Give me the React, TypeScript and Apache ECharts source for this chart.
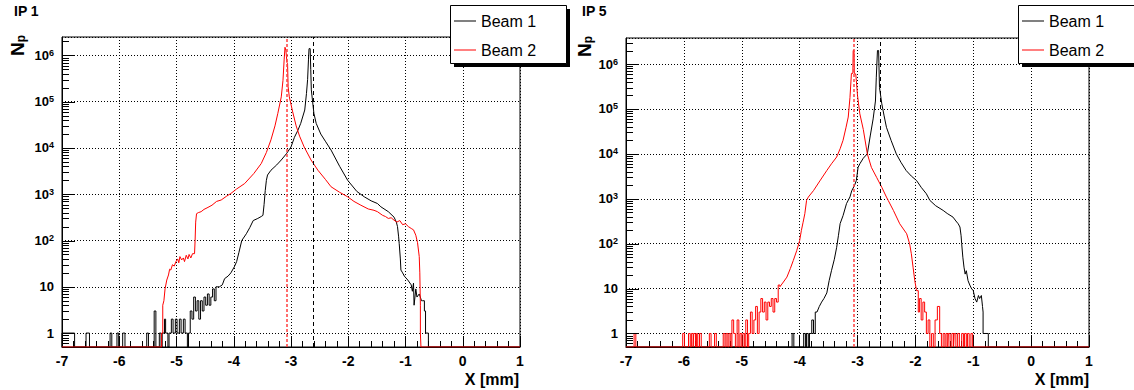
import { useEffect, useRef } from 'react';
import * as echarts from 'echarts';

// ---------------- data ----------------
const xMin = -7;
const xMax = 1;
const yMinCount = 0.5;
const ip1YMax = 2.5e6;
const ip5YMax = 3.8e6;
const panelTitles = ['IP 1', 'IP 5'];
const legendNames = ['Beam 1', 'Beam 2'];
const xAxisTitle = 'X [mm]';
// mean positions (dashed vertical lines) [beam1, beam2]
const ip1MeanX = [-2.62, -3.07];
const ip5MeanX = [-2.61, -3.06];

type Bin = [number, number, number]; // [xStart, xEnd, count]
type Pt = [number, number]; // [x, count]

// IP 1, Beam 1
const ip1Beam1LeftBins: Bin[] = [
  [-7.0, -6.78, 1], [-6.58, -6.52, 1], [-6.16, -6.13, 1], [-6.04, -6.01, 1], [-5.94, -5.9, 1],
  [-5.52, -5.49, 1], [-5.39, -5.36, 3], [-5.3, -5.27, 1], [-5.25, -5.21, 1], [-5.21, -5.19, 2],
  [-5.19, -5.15, 1], [-5.13, -5.09, 1], [-5.09, -5.06, 2], [-5.06, -5.02, 1], [-5.02, -4.99, 2],
  [-4.99, -4.95, 1], [-4.95, -4.92, 2], [-4.92, -4.88, 1], [-4.88, -4.85, 2], [-4.85, -4.81, 1],
  [-4.79, -4.76, 1], [-4.76, -4.73, 3], [-4.73, -4.7, 2], [-4.7, -4.67, 6], [-4.67, -4.64, 3],
  [-4.64, -4.61, 5], [-4.61, -4.58, 2], [-4.58, -4.55, 5], [-4.55, -4.52, 3], [-4.52, -4.49, 6],
  [-4.49, -4.46, 4], [-4.46, -4.43, 7], [-4.43, -4.4, 4], [-4.4, -4.37, 6], [-4.37, -4.34, 9],
  [-4.34, -4.31, 5], [-4.31, -4.28, 10],
];
const ip1Beam1Curve: Pt[] = [
  [-4.28, 10], [-4.25, 10], [-4.2, 11], [-4.16, 15], [-4.1, 17], [-4.05, 20], [-3.99, 27], [-3.95, 35],
  [-3.91, 55], [-3.86, 100], [-3.78, 140], [-3.72, 190], [-3.66, 270], [-3.58, 300], [-3.52, 330],
  [-3.49, 350], [-3.47, 600], [-3.45, 1200], [-3.43, 2000], [-3.41, 2600], [-3.35, 3300], [-3.25, 4300],
  [-3.17, 5500], [-3.08, 7500], [-3.0, 10500], [-2.94, 17000], [-2.88, 24000], [-2.83, 34000],
  [-2.76, 66000], [-2.73, 150000], [-2.71, 300000], [-2.695, 800000], [-2.685, 1400000],
  [-2.665, 1400000], [-2.655, 500000], [-2.645, 180000], [-2.6, 56000], [-2.56, 34000], [-2.48, 20000],
  [-2.4, 14000], [-2.3, 9000], [-2.15, 4000], [-2.01, 2000], [-1.85, 1150], [-1.72, 880], [-1.6, 720],
  [-1.49, 630], [-1.43, 535], [-1.3, 420], [-1.2, 320], [-1.16, 250], [-1.14, 200], [-1.12, 120],
  [-1.11, 87], [-1.09, 40], [-1.08, 23], [-1.05, 20], [-1.02, 17], [-0.96, 14], [-0.9, 11], [-0.88, 8],
  [-0.86, 12], [-0.85, 4], [-0.82, 9], [-0.8, 6], [-0.76, 7], [-0.72, 5], [-0.7, 5],
];
const ip1Beam1RightBins: Bin[] = [[-0.7, -0.67, 5], [-0.67, -0.65, 3], [-0.65, -0.6, 1]];

// IP 1, Beam 2
const ip1Beam2LeftBins: Bin[] = [[-5.26, -5.24, 1]];
const ip1Beam2Curve: Pt[] = [
  [-5.24, 4], [-5.22, 5], [-5.2, 9], [-5.17, 14], [-5.14, 18], [-5.12, 24], [-5.1, 23], [-5.07, 30],
  [-5.04, 28], [-5.01, 35], [-4.98, 40], [-4.96, 33], [-4.94, 45], [-4.91, 38], [-4.88, 42], [-4.86, 35],
  [-4.83, 48], [-4.8, 40], [-4.78, 50], [-4.75, 42], [-4.72, 52], [-4.685, 52], [-4.675, 100],
  [-4.665, 250], [-4.65, 380], [-4.62, 400], [-4.57, 420], [-4.52, 470], [-4.45, 520], [-4.38, 580],
  [-4.3, 700], [-4.22, 750], [-4.13, 900], [-4.05, 1040], [-3.95, 1300], [-3.81, 1700], [-3.65, 2800],
  [-3.52, 4600], [-3.43, 8000], [-3.35, 15000], [-3.28, 30000], [-3.23, 56000], [-3.17, 127000],
  [-3.14, 290000], [-3.12, 800000], [-3.105, 1500000], [-3.09, 1300000], [-3.07, 700000],
  [-3.06, 660000], [-3.05, 210000], [-3.03, 127000], [-2.97, 60000], [-2.91, 30000], [-2.85, 18000],
  [-2.77, 10500], [-2.65, 5500], [-2.53, 3300], [-2.4, 2100], [-2.3, 1450], [-2.15, 1100], [-2.01, 880],
  [-1.9, 700], [-1.78, 580], [-1.65, 480], [-1.55, 450], [-1.49, 420], [-1.4, 350], [-1.35, 330],
  [-1.3, 300], [-1.25, 310], [-1.2, 275], [-1.15, 250], [-1.1, 270], [-1.05, 220], [-1.0, 230],
  [-0.95, 200], [-0.9, 182], [-0.86, 170], [-0.82, 130], [-0.79, 90], [-0.76, 45], [-0.75, 20], [-0.74, 4],
];
const ip1Beam2RightBins: Bin[] = [[-0.74, -0.73, 1]];

// IP 5, Beam 1
const ip5Beam1LeftBins: Bin[] = [
  [-4.13, -4.1, 1], [-3.93, -3.9, 1], [-3.88, -3.85, 1], [-3.83, -3.79, 1], [-3.79, -3.76, 2],
  [-3.76, -3.73, 1], [-3.73, -3.7, 3],
];
const ip5Beam1Curve: Pt[] = [
  [-3.7, 3], [-3.66, 4], [-3.62, 5], [-3.58, 6], [-3.53, 8], [-3.49, 15], [-3.45, 25], [-3.4, 45],
  [-3.36, 83], [-3.33, 150], [-3.3, 280], [-3.25, 420], [-3.19, 780], [-3.13, 1100], [-3.1, 1500],
  [-3.05, 2000], [-3.02, 2550], [-2.99, 5000], [-2.96, 6000], [-2.9, 8000], [-2.83, 10000],
  [-2.78, 25000], [-2.73, 60000], [-2.69, 150000], [-2.675, 510000], [-2.655, 2000000],
  [-2.635, 2000000], [-2.62, 300000], [-2.58, 130000], [-2.54, 70000], [-2.5, 39000], [-2.42, 20000],
  [-2.33, 10000], [-2.25, 6500], [-2.16, 4260], [-2.07, 3200], [-1.98, 2550], [-1.9, 1800],
  [-1.81, 1290], [-1.75, 920], [-1.65, 700], [-1.52, 550], [-1.45, 470], [-1.35, 390], [-1.3, 320],
  [-1.26, 277], [-1.23, 235], [-1.21, 150], [-1.2, 100], [-1.18, 50], [-1.16, 30], [-1.14, 21],
  [-1.12, 25], [-1.09, 15], [-1.06, 12], [-1.03, 10], [-1.0, 9], [-0.97, 6], [-0.94, 5], [-0.91, 7],
  [-0.89, 6], [-0.86, 7], [-0.84, 4], [-0.83, 3],
];
const ip5Beam1RightBins: Bin[] = [[-0.83, -0.74, 1]];

// IP 5, Beam 2
const ip5Beam2LeftBins: Bin[] = [
  [-6.86, -6.83, 1], [-6.02, -5.99, 1], [-5.92, -5.89, 1], [-5.87, -5.84, 1], [-5.83, -5.8, 1],
  [-5.78, -5.76, 1], [-5.73, -5.7, 1], [-5.56, -5.53, 1], [-5.47, -5.44, 1], [-5.32, -5.29, 1],
  [-5.27, -5.24, 1], [-5.22, -5.19, 1], [-5.17, -5.14, 2], [-5.14, -5.11, 1], [-5.08, -5.05, 2],
  [-5.03, -5.0, 1], [-4.98, -4.95, 1], [-4.93, -4.9, 2], [-4.88, -4.85, 1], [-4.85, -4.82, 3],
  [-4.82, -4.79, 1], [-4.79, -4.76, 2], [-4.76, -4.73, 4], [-4.73, -4.7, 1], [-4.7, -4.67, 3],
  [-4.67, -4.64, 6], [-4.64, -4.61, 3], [-4.61, -4.58, 5], [-4.58, -4.55, 2], [-4.55, -4.52, 5],
  [-4.52, -4.49, 4], [-4.49, -4.46, 6], [-4.46, -4.43, 3], [-4.43, -4.4, 6], [-4.4, -4.37, 5],
  [-4.37, -4.34, 12],
];
const ip5Beam2Curve: Pt[] = [
  [-4.34, 11], [-4.28, 14], [-4.22, 18], [-4.16, 28], [-4.11, 42], [-4.05, 70], [-4.0, 117],
  [-3.97, 196], [-3.94, 300], [-3.91, 465], [-3.88, 920], [-3.85, 1090], [-3.76, 1520], [-3.65, 2500],
  [-3.53, 4260], [-3.45, 6000], [-3.36, 8500], [-3.3, 13000], [-3.25, 20000], [-3.2, 38000],
  [-3.16, 66000], [-3.13, 180000], [-3.105, 620000], [-3.08, 620000], [-3.075, 2000000],
  [-3.06, 2000000], [-3.055, 620000], [-3.03, 600000], [-3.02, 430000], [-3.0, 200000],
  [-2.96, 78000], [-2.9, 35000], [-2.83, 10000], [-2.76, 5000], [-2.67, 3000], [-2.58, 1800],
  [-2.5, 1090], [-2.47, 920], [-2.38, 550], [-2.27, 277], [-2.15, 166], [-2.1, 100], [-2.07, 60],
  [-2.04, 30], [-2.01, 15], [-1.98, 9],
];
const ip5Beam2RightBins: Bin[] = [
  [-1.98, -1.95, 9], [-1.95, -1.93, 3], [-1.93, -1.9, 6], [-1.9, -1.87, 2], [-1.87, -1.84, 5],
  [-1.84, -1.81, 3], [-1.81, -1.78, 1], [-1.78, -1.75, 2], [-1.72, -1.69, 1], [-1.66, -1.62, 2],
  [-1.62, -1.58, 4], [-1.58, -1.55, 1], [-1.52, -1.49, 1], [-1.47, -1.44, 1], [-1.43, -1.4, 1],
  [-1.37, -1.34, 1], [-1.33, -1.3, 1], [-1.27, -1.24, 1], [-1.2, -1.17, 1], [-1.15, -1.12, 1],
  [-1.1, -1.07, 1], [-1.04, -1.01, 1],
];

// ---------------- helpers ----------------
const FONT = '"Liberation Sans", Arial, Helvetica, sans-serif';

// Build the histogram outline (empty bins sit on the axis floor)
function outline(leftBins: Bin[], curve: Pt[], rightBins: Bin[]): Pt[] {
  const floor = yMinCount;
  const pts: Pt[] = [[xMin, floor]];
  const addBins = (bins: Bin[]) => {
    for (const [a, b, c] of bins) {
      const last = pts[pts.length - 1];
      if (last[0] < a - 1e-9) {
        if (last[1] !== floor) pts.push([last[0], floor]);
        pts.push([a, floor]);
      }
      pts.push([a, c]);
      pts.push([b, c]);
    }
  };
  addBins(leftBins);
  const last = pts[pts.length - 1];
  if (curve.length && last[0] < curve[0][0] - 0.005) {
    if (last[1] !== floor) pts.push([last[0], floor]);
    pts.push([curve[0][0], floor]);
  }
  for (const p of curve) pts.push([p[0], p[1]]);
  addBins(rightBins);
  const end = pts[pts.length - 1];
  pts.push([end[0], floor]);
  pts.push([xMax, floor]);
  return pts;
}

function logLabel(v: number): string {
  const e = Math.log10(v);
  const r = Math.round(e);
  if (Math.abs(e - r) > 1e-6 || r < 0) return '';
  if (r === 0) return '1';
  if (r === 1) return '10';
  return '10{sup|' + r + '}';
}

function yTickValues(maxV: number): [number, number, number][] {
  const out: [number, number, number][] = [];
  for (let k = -1; k <= 7; k++) {
    for (let m = 1; m <= 9; m++) {
      const v = m * Math.pow(10, k);
      if (v > yMinCount * 1.0001 && v < maxV) out.push([xMin, v, m === 1 ? 1 : 0]);
    }
  }
  return out;
}

const dotted = { color: '#000', width: 1, type: [1, 2] as any };

function makeX(gridIndex: number) {
  return {
    type: 'value', gridIndex, min: xMin, max: xMax, interval: 1,
    axisLine: { show: true, onZero: false, lineStyle: { color: '#000', width: 1 } },
    axisTick: { show: true, inside: true, length: 11, lineStyle: { color: '#000', width: 1 } },
    minorTick: { show: true, splitNumber: 5, length: 6, lineStyle: { color: '#000', width: 1 } },
    axisLabel: {
      show: true, color: '#000', fontFamily: FONT, fontSize: 14, fontWeight: 'bold', margin: 7,
      showMinLabel: true, showMaxLabel: true,
    },
    splitLine: { show: true, lineStyle: dotted },
  };
}

function makeY(gridIndex: number, maxV: number) {
  return {
    type: 'log', logBase: 10, gridIndex, min: yMinCount, max: maxV,
    axisLine: { show: true, onZero: false, lineStyle: { color: '#000', width: 1 } },
    axisTick: { show: false },
    axisLabel: {
      color: '#000', fontFamily: FONT, fontSize: 13, fontWeight: 'bold', margin: 8,
      formatter: logLabel,
      rich: { sup: { fontSize: 9, fontWeight: 'bold', fontFamily: FONT, color: '#000', verticalAlign: 'top', lineHeight: 14 } },
    },
    splitLine: { show: true, lineStyle: dotted },
  };
}

function histSeries(name: string, data: Pt[], color: string, idx: number, meanX: number, meanColor: string, meanWidth: number, dash: number[]) {
  return {
    type: 'line', name, xAxisIndex: idx, yAxisIndex: idx, data,
    showSymbol: false, symbol: 'none', clip: true, silent: true, z: 3,
    lineStyle: { color, width: 1 }, itemStyle: { color },
    markLine: {
      silent: true, symbol: ['none', 'none'], label: { show: false }, animation: false,
      lineStyle: { color: meanColor, width: meanWidth, type: dash },
      data: [{ xAxis: meanX }],
    },
  };
}

function tickSeries(idx: number, maxV: number) {
  return {
    type: 'custom', xAxisIndex: idx, yAxisIndex: idx, silent: true, z: 4,
    data: yTickValues(maxV),
    renderItem: (_p: any, api: any) => {
      const pt = api.coord([api.value(0), api.value(1)]);
      const len = api.value(2) ? 13 : 7;
      const y = Math.round(pt[1]) + 0.5;
      return {
        type: 'line',
        shape: { x1: pt[0], y1: y, x2: pt[0] + len, y2: y },
        style: { stroke: '#000', lineWidth: 1 },
      };
    },
  };
}

function legendBox(x: number, w: number) {
  return [
    { type: 'rect', z: 100, shape: { x: x + 4, y: 9, width: w, height: 58 }, style: { fill: '#000' } },
    { type: 'rect', z: 101, shape: { x: x + 0.5, y: 5.5, width: w, height: 58 }, style: { fill: '#fff', stroke: '#000', lineWidth: 1 } },
  ];
}

function legendComp(left: number) {
  return {
    show: true, orient: 'vertical', left, top: 11, padding: 0, itemGap: 9,
    itemWidth: 22, itemHeight: 1, icon: 'rect', selectedMode: false, z: 200,
    textStyle: { color: '#000', fontFamily: FONT, fontSize: 16, lineHeight: 20 },
    data: legendNames,
  };
}

function yTitle(x: number, y: number) {
  return {
    type: 'text', z: 100, x, y, rotation: Math.PI / 2,
    style: {
      text: 'N{p|p}', fill: '#000', fontFamily: FONT, fontSize: 19, fontWeight: 'bold',
      align: 'left', verticalAlign: 'bottom',
      rich: { p: { fontSize: 12, fontWeight: 'bold', fontFamily: FONT, fill: '#000', verticalAlign: 'bottom' } },
    },
  };
}

export default function App() {
  const ref = useRef<HTMLDivElement>(null);
  useEffect(() => {
    document.body.style.margin = '0';
    if (!ref.current) return;
    const chart = echarts.init(ref.current, undefined, { renderer: 'svg' });
    const option: any = {
      animation: false,
      backgroundColor: '#fff',
      grid: [
        { left: 62, top: 37, width: 458, height: 310, show: true, borderColor: '#000', borderWidth: 1, backgroundColor: 'transparent' },
        { left: 626, top: 38, width: 463, height: 309, show: true, borderColor: '#000', borderWidth: 1, backgroundColor: 'transparent' },
      ],
      xAxis: [makeX(0), makeX(1)],
      yAxis: [makeY(0, ip1YMax), makeY(1, ip5YMax)],
      legend: [legendComp(454), legendComp(1022)],
      series: [
        histSeries(legendNames[0], outline(ip1Beam1LeftBins, ip1Beam1Curve, ip1Beam1RightBins), '#000', 0, ip1MeanX[0], '#000', 1, [4, 3]),
        histSeries(legendNames[1], outline(ip1Beam2LeftBins, ip1Beam2Curve, ip1Beam2RightBins), '#ff0000', 0, ip1MeanX[1], 'rgba(255,60,60,0.75)', 2, [3, 2]),
        histSeries(legendNames[0], outline(ip5Beam1LeftBins, ip5Beam1Curve, ip5Beam1RightBins), '#000', 1, ip5MeanX[0], '#000', 1, [4, 3]),
        histSeries(legendNames[1], outline(ip5Beam2LeftBins, ip5Beam2Curve, ip5Beam2RightBins), '#ff0000', 1, ip5MeanX[1], 'rgba(255,60,60,0.75)', 2, [3, 2]),
        tickSeries(0, ip1YMax),
        tickSeries(1, ip5YMax),
      ],
      graphic: [
        ...legendBox(450, 116),
        ...legendBox(1018, 125),
        { type: 'text', z: 100, x: 14, y: 4, style: { text: panelTitles[0], fill: '#000', fontFamily: FONT, fontSize: 14, fontWeight: 'bold', align: 'left', verticalAlign: 'top' } },
        { type: 'text', z: 100, x: 582, y: 4, style: { text: panelTitles[1], fill: '#000', fontFamily: FONT, fontSize: 14, fontWeight: 'bold', align: 'left', verticalAlign: 'top' } },
        yTitle(27, 56),
        yTitle(594, 57),
        { type: 'text', z: 100, x: 519, y: 371, style: { text: xAxisTitle, fill: '#000', fontFamily: FONT, fontSize: 16, fontWeight: 'bold', align: 'right', verticalAlign: 'top' } },
        { type: 'text', z: 100, x: 1089, y: 371, style: { text: xAxisTitle, fill: '#000', fontFamily: FONT, fontSize: 16, fontWeight: 'bold', align: 'right', verticalAlign: 'top' } },
      ],
    };
    chart.setOption(option);
    return () => chart.dispose();
  }, []);
  return <div ref={ref} style={{ width: 1134, height: 390 }} />;
}
